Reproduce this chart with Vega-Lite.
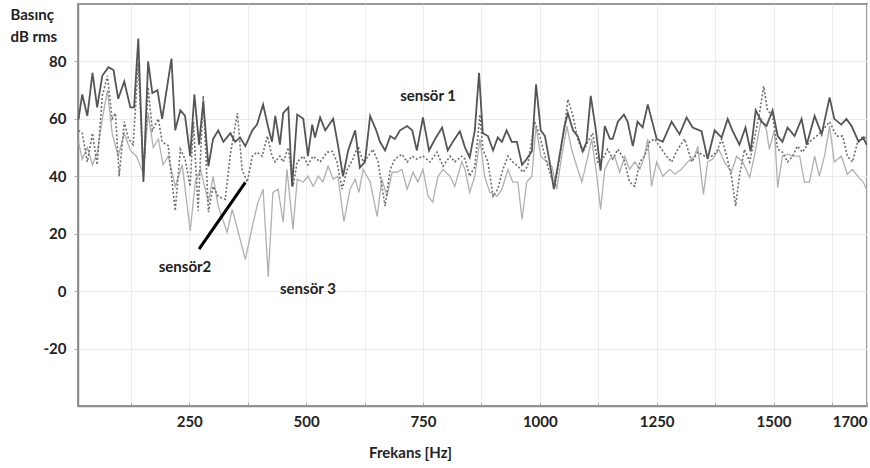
{
 "$schema": "https://vega.github.io/schema/vega-lite/v6.json",
 "width": 789, "height": 402,
 "autosize": "none",
 "padding": {"left": 78, "top": 4, "right": 3, "bottom": 62},
 "background": "white",
 "config": {"view": {"stroke": "#9a9a9a", "strokeWidth": 2}, "font": "Lato",
            "locale": {"number": {"decimal": ".", "thousands": "", "grouping": [3], "currency": ["", ""], "minus": "-"}}},
 "datasets": {
  "s1": [{"f":13,"v":59.8},{"f":21,"v":68.5},{"f":32,"v":61},{"f":43,"v":76},{"f":53,"v":64},{"f":64,"v":75},{"f":77,"v":78},{"f":88,"v":77},{"f":98,"v":67},{"f":111,"v":73},{"f":124,"v":64},{"f":132,"v":64},{"f":141,"v":88},{"f":152,"v":38},{"f":162,"v":80},{"f":171,"v":69},{"f":182,"v":70},{"f":192,"v":60},{"f":212,"v":81},{"f":220,"v":56},{"f":231,"v":63},{"f":241,"v":61},{"f":252,"v":47},{"f":261,"v":68.5},{"f":271,"v":51},{"f":280,"v":66},{"f":291,"v":43.5},{"f":301,"v":53},{"f":312,"v":56},{"f":323,"v":52},{"f":338,"v":55},{"f":348,"v":52},{"f":359,"v":53.5},{"f":370,"v":50.5},{"f":385,"v":56},{"f":395,"v":58},{"f":408,"v":65},{"f":419,"v":57},{"f":427,"v":52},{"f":434,"v":61},{"f":444,"v":51},{"f":451,"v":62},{"f":462,"v":64},{"f":470,"v":36.5},{"f":481,"v":61.5},{"f":494,"v":60},{"f":504,"v":47},{"f":513,"v":58},{"f":519,"v":53.5},{"f":530,"v":60.5},{"f":541,"v":56},{"f":558,"v":60},{"f":568,"v":51},{"f":579,"v":40},{"f":590,"v":49},{"f":605,"v":56},{"f":615,"v":43},{"f":626,"v":45},{"f":637,"v":61},{"f":650,"v":56},{"f":658,"v":52},{"f":669,"v":49},{"f":680,"v":54},{"f":690,"v":53},{"f":701,"v":56},{"f":716,"v":57.5},{"f":727,"v":56},{"f":737,"v":49},{"f":750,"v":60.5},{"f":763,"v":49},{"f":776,"v":53},{"f":791,"v":57},{"f":803,"v":49},{"f":814,"v":52},{"f":829,"v":55.7},{"f":840,"v":50},{"f":850,"v":46.6},{"f":861,"v":56},{"f":870,"v":76},{"f":878,"v":55},{"f":889,"v":54},{"f":900,"v":49},{"f":910,"v":53.5},{"f":919,"v":52},{"f":929,"v":56},{"f":940,"v":52},{"f":951,"v":52},{"f":962,"v":44},{"f":972,"v":46},{"f":983,"v":48.7},{"f":992,"v":72},{"f":1002,"v":56},{"f":1011,"v":54},{"f":1021,"v":45},{"f":1030,"v":35.5},{"f":1043,"v":48},{"f":1053,"v":57.5},{"f":1060,"v":62},{"f":1071,"v":56},{"f":1081,"v":54},{"f":1092,"v":48.7},{"f":1100,"v":52},{"f":1109,"v":68},{"f":1120,"v":56},{"f":1130,"v":42},{"f":1139,"v":57.5},{"f":1150,"v":53},{"f":1156,"v":53},{"f":1167,"v":59},{"f":1180,"v":61.5},{"f":1188,"v":59},{"f":1199,"v":50.5},{"f":1209,"v":59},{"f":1220,"v":57},{"f":1231,"v":65},{"f":1239,"v":60},{"f":1250,"v":53},{"f":1263,"v":52},{"f":1282,"v":59},{"f":1299,"v":54.6},{"f":1314,"v":60.5},{"f":1327,"v":57},{"f":1346,"v":55.7},{"f":1359,"v":46},{"f":1374,"v":56},{"f":1389,"v":53.5},{"f":1402,"v":60},{"f":1412,"v":56},{"f":1427,"v":51},{"f":1440,"v":57},{"f":1451,"v":48.7},{"f":1462,"v":63},{"f":1474,"v":59},{"f":1485,"v":57.5},{"f":1498,"v":63},{"f":1509,"v":54},{"f":1519,"v":52},{"f":1530,"v":57},{"f":1545,"v":54},{"f":1560,"v":60},{"f":1571,"v":51},{"f":1588,"v":61},{"f":1603,"v":54.6},{"f":1620,"v":67.5},{"f":1630,"v":60},{"f":1645,"v":58},{"f":1656,"v":60},{"f":1667,"v":57.5},{"f":1682,"v":52},{"f":1692,"v":53.5},{"f":1699,"v":51}],
  "s2": [{"f":13,"v":56},{"f":21,"v":55},{"f":32,"v":45},{"f":43,"v":55},{"f":53,"v":44},{"f":64,"v":68},{"f":75,"v":75},{"f":85,"v":60},{"f":92,"v":62},{"f":100,"v":40},{"f":111,"v":59},{"f":120,"v":53},{"f":130,"v":51},{"f":141,"v":79.5},{"f":152,"v":40},{"f":162,"v":71},{"f":171,"v":56},{"f":184,"v":60},{"f":192,"v":52},{"f":205,"v":50.7},{"f":220,"v":28},{"f":231,"v":49.4},{"f":241,"v":46},{"f":252,"v":36.5},{"f":259,"v":59},{"f":269,"v":28},{"f":280,"v":68},{"f":291,"v":27.5},{"f":301,"v":36.5},{"f":312,"v":33},{"f":327,"v":32},{"f":338,"v":47.7},{"f":353,"v":62},{"f":363,"v":42.4},{"f":374,"v":38},{"f":385,"v":47},{"f":395,"v":48.4},{"f":406,"v":47},{"f":417,"v":54},{"f":427,"v":47},{"f":434,"v":45},{"f":444,"v":47},{"f":451,"v":45},{"f":462,"v":50},{"f":472,"v":36.5},{"f":481,"v":45},{"f":494,"v":47},{"f":504,"v":44},{"f":515,"v":47},{"f":530,"v":45},{"f":545,"v":48.4},{"f":556,"v":48.7},{"f":566,"v":45},{"f":577,"v":35.5},{"f":588,"v":42.4},{"f":600,"v":46},{"f":611,"v":50.5},{"f":622,"v":45},{"f":633,"v":47},{"f":643,"v":49.4},{"f":654,"v":45},{"f":669,"v":29.6},{"f":680,"v":42.4},{"f":690,"v":46},{"f":705,"v":47.7},{"f":716,"v":45},{"f":727,"v":47},{"f":737,"v":46},{"f":750,"v":47},{"f":765,"v":45},{"f":780,"v":48.4},{"f":793,"v":43.5},{"f":808,"v":47},{"f":818,"v":45},{"f":833,"v":47},{"f":840,"v":46},{"f":850,"v":40},{"f":861,"v":43.5},{"f":872,"v":61.5},{"f":878,"v":49.4},{"f":889,"v":45},{"f":900,"v":33},{"f":910,"v":35.5},{"f":921,"v":42.4},{"f":932,"v":47},{"f":942,"v":45},{"f":953,"v":43.5},{"f":964,"v":41.4},{"f":974,"v":43.5},{"f":989,"v":59},{"f":1000,"v":54},{"f":1011,"v":47},{"f":1021,"v":41.4},{"f":1032,"v":36.5},{"f":1043,"v":47},{"f":1053,"v":57.5},{"f":1060,"v":66.8},{"f":1071,"v":61},{"f":1081,"v":53},{"f":1092,"v":48.4},{"f":1103,"v":52},{"f":1113,"v":55},{"f":1124,"v":45},{"f":1135,"v":46},{"f":1145,"v":49.4},{"f":1156,"v":46},{"f":1167,"v":49.4},{"f":1180,"v":46},{"f":1192,"v":38},{"f":1203,"v":36.5},{"f":1214,"v":45},{"f":1224,"v":47},{"f":1235,"v":52},{"f":1246,"v":53},{"f":1256,"v":50.5},{"f":1271,"v":47},{"f":1282,"v":45},{"f":1295,"v":49.4},{"f":1310,"v":53},{"f":1325,"v":45},{"f":1338,"v":48.4},{"f":1353,"v":47},{"f":1368,"v":47},{"f":1378,"v":48.4},{"f":1389,"v":53},{"f":1400,"v":47},{"f":1410,"v":40},{"f":1419,"v":29.6},{"f":1427,"v":40},{"f":1438,"v":49.4},{"f":1449,"v":45},{"f":1459,"v":53},{"f":1470,"v":62},{"f":1479,"v":71.3},{"f":1487,"v":63},{"f":1498,"v":61},{"f":1509,"v":49.4},{"f":1519,"v":48.4},{"f":1530,"v":45},{"f":1541,"v":47},{"f":1551,"v":50.5},{"f":1562,"v":48.4},{"f":1577,"v":52},{"f":1592,"v":54},{"f":1605,"v":56},{"f":1620,"v":59},{"f":1635,"v":54},{"f":1648,"v":54},{"f":1658,"v":47},{"f":1669,"v":45},{"f":1680,"v":52},{"f":1692,"v":54},{"f":1699,"v":53}],
  "s3": [{"f":13,"v":52},{"f":21,"v":46},{"f":32,"v":50},{"f":43,"v":44},{"f":53,"v":48},{"f":64,"v":60},{"f":75,"v":70},{"f":85,"v":55},{"f":98,"v":47},{"f":111,"v":55},{"f":124,"v":49},{"f":137,"v":47},{"f":152,"v":41},{"f":162,"v":62},{"f":173,"v":50},{"f":184,"v":53},{"f":194,"v":44},{"f":205,"v":47},{"f":220,"v":36.5},{"f":235,"v":44},{"f":252,"v":21},{"f":263,"v":38},{"f":274,"v":42.4},{"f":291,"v":31},{"f":301,"v":40},{"f":312,"v":29.6},{"f":331,"v":20.5},{"f":342,"v":28.5},{"f":355,"v":20.5},{"f":370,"v":11},{"f":385,"v":22.6},{"f":397,"v":31},{"f":408,"v":35.5},{"f":419,"v":5},{"f":429,"v":34.4},{"f":440,"v":35.5},{"f":451,"v":24},{"f":459,"v":42.4},{"f":472,"v":21.6},{"f":481,"v":39},{"f":494,"v":38},{"f":504,"v":40},{"f":515,"v":36.5},{"f":526,"v":40},{"f":536,"v":38},{"f":547,"v":43.5},{"f":558,"v":39},{"f":568,"v":40},{"f":581,"v":24.3},{"f":594,"v":35.5},{"f":605,"v":39},{"f":613,"v":34.4},{"f":622,"v":42.4},{"f":637,"v":38},{"f":652,"v":26},{"f":662,"v":39},{"f":673,"v":33},{"f":684,"v":41.4},{"f":694,"v":41.4},{"f":705,"v":42.4},{"f":716,"v":35.5},{"f":729,"v":41.4},{"f":739,"v":38},{"f":750,"v":42.4},{"f":761,"v":33},{"f":771,"v":31},{"f":782,"v":40},{"f":793,"v":42.4},{"f":808,"v":40},{"f":818,"v":36.5},{"f":833,"v":45},{"f":840,"v":42.4},{"f":850,"v":34.4},{"f":861,"v":40},{"f":872,"v":53},{"f":882,"v":40},{"f":893,"v":34.4},{"f":908,"v":33},{"f":919,"v":35.5},{"f":932,"v":42.4},{"f":942,"v":38},{"f":953,"v":38},{"f":962,"v":25},{"f":972,"v":38},{"f":983,"v":40},{"f":992,"v":57.5},{"f":1002,"v":47},{"f":1015,"v":45},{"f":1026,"v":43.5},{"f":1036,"v":35.5},{"f":1047,"v":47},{"f":1058,"v":57.5},{"f":1068,"v":49.4},{"f":1079,"v":43.5},{"f":1090,"v":38},{"f":1103,"v":47},{"f":1111,"v":53},{"f":1122,"v":40},{"f":1130,"v":28.5},{"f":1139,"v":42.4},{"f":1150,"v":46},{"f":1160,"v":47},{"f":1171,"v":41.4},{"f":1182,"v":47},{"f":1192,"v":42.4},{"f":1203,"v":45},{"f":1214,"v":42.4},{"f":1224,"v":47},{"f":1231,"v":53},{"f":1239,"v":36.5},{"f":1250,"v":45},{"f":1263,"v":40},{"f":1278,"v":42.4},{"f":1289,"v":40.7},{"f":1303,"v":42.4},{"f":1316,"v":45},{"f":1331,"v":47},{"f":1338,"v":50.5},{"f":1350,"v":33.7},{"f":1359,"v":45},{"f":1370,"v":46},{"f":1383,"v":49.4},{"f":1395,"v":45},{"f":1410,"v":41.4},{"f":1421,"v":47},{"f":1434,"v":45},{"f":1449,"v":39.6},{"f":1459,"v":47},{"f":1474,"v":60},{"f":1485,"v":56},{"f":1491,"v":49.4},{"f":1502,"v":56},{"f":1509,"v":36},{"f":1519,"v":47},{"f":1530,"v":47.7},{"f":1541,"v":47},{"f":1556,"v":47},{"f":1566,"v":38},{"f":1577,"v":38},{"f":1588,"v":47},{"f":1598,"v":40},{"f":1609,"v":47},{"f":1620,"v":57.5},{"f":1630,"v":45},{"f":1645,"v":47},{"f":1658,"v":40.7},{"f":1669,"v":42.4},{"f":1682,"v":39.6},{"f":1692,"v":38},{"f":1699,"v":35.5}],
  "labels": [{"f":761,"v":67.8,"t":"sensör 1"},{"f":241,"v":8.3,"t":"sensör2"},{"f":504,"v":0.7,"t":"sensör 3"}],
  "pointer": [{"f":271,"v":14.6,"f2":370,"v2":37.9}]
 },
 "layer": [
  {
   "data": {"name": "s3"},
   "mark": {"type": "line", "color": "#b0b0b0", "strokeWidth": 1.3},
   "encoding": {
    "x": {"field": "f", "type": "quantitative",
          "scale": {"domain": [12, 1700], "nice": false, "zero": false},
          "axis": {"values": [125,250,375,500,625,750,875,1000,1125,1250,1375,1500,1625,1700],
                   "labelExpr": "datum.value % 250 == 0 || datum.value == 1700 ? datum.label : ''",
                   "format": "d", "labelFlush": true, "labelOverlap": false,
                   "labelFont": "Lato", "labelFontSize": 15, "labelFontWeight": "bold", "labelColor": "#222",
                   "labelPadding": 12,
                   "grid": true, "gridColor": "#ececec", "gridWidth": 1,
                   "domainColor": "#8a8a8a", "domainWidth": 1.5,
                   "tickColor": "#aaaaaa", "tickSize": -4,
                   "title": "Frekans [Hz]", "titleFont": "Lato", "titleFontSize": 15, "titleFontWeight": "bold", "titleColor": "#222",
                   "titleAnchor": "start", "titleAlign": "center", "titleX": 332, "titleY": 46, "titleBaseline": "middle"}},
    "y": {"field": "v", "type": "quantitative",
          "scale": {"domain": [-40, 100], "nice": false, "zero": false},
          "axis": {"values": [-20, 0, 20, 40, 60, 80],
                   "format": "d", "labelOverlap": false,
                   "labelFont": "Lato", "labelFontSize": 15, "labelFontWeight": "bold", "labelColor": "#222",
                   "labelPadding": 8,
                   "grid": true, "gridColor": "#ececec", "gridWidth": 1,
                   "domainColor": "#8a8a8a", "domainWidth": 1.5,
                   "tickColor": "#aaaaaa", "tickSize": 4,
                   "title": ["Basınç", "dB rms"], "titleFont": "Lato", "titleFontSize": 15, "titleFontWeight": "bold", "titleColor": "#222",
                   "titleAngle": 0, "titleAlign": "left", "titleBaseline": "top", "titleX": -68, "titleY": 3, "titleLineHeight": 22}}
   }
  },
  {
   "data": {"name": "s2"},
   "mark": {"type": "line", "color": "#6e6e6e", "strokeWidth": 1.6, "strokeDash": [2, 2]},
   "encoding": {"x": {"field": "f", "type": "quantitative"}, "y": {"field": "v", "type": "quantitative"}}
  },
  {
   "data": {"name": "s1"},
   "mark": {"type": "line", "color": "#555555", "strokeWidth": 1.8},
   "encoding": {"x": {"field": "f", "type": "quantitative"}, "y": {"field": "v", "type": "quantitative"}}
  },
  {
   "data": {"name": "pointer"},
   "mark": {"type": "rule", "color": "#000000", "strokeWidth": 3},
   "encoding": {"x": {"field": "f", "type": "quantitative"}, "y": {"field": "v", "type": "quantitative"},
                "x2": {"field": "f2"}, "y2": {"field": "v2"}}
  },
  {
   "data": {"name": "labels"},
   "mark": {"type": "text", "font": "Lato", "fontSize": 15, "fontWeight": "bold", "color": "#222", "align": "center", "baseline": "middle"},
   "encoding": {"x": {"field": "f", "type": "quantitative"}, "y": {"field": "v", "type": "quantitative"}, "text": {"field": "t"}}
  },
  {
   "mark": {"type": "rule", "color": "#8f8f8f", "strokeWidth": 3},
   "encoding": {"y": {"datum": 100}}
  }
 ]
}
